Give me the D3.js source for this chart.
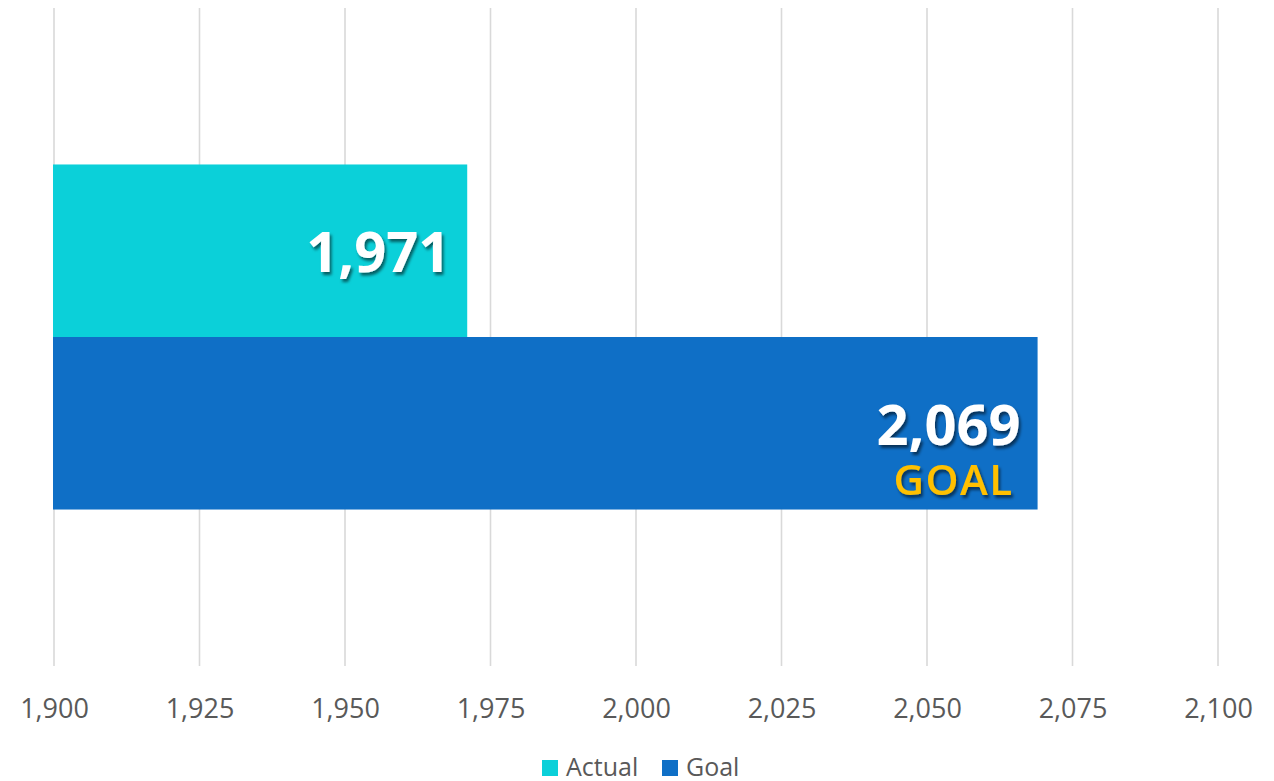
<!DOCTYPE html>
<html>
<head>
<meta charset="utf-8">
<script src="https://cdn.jsdelivr.net/npm/d3@7"></script>
<style>
  html, body { margin: 0; padding: 0; background: #fff; }
  svg { display: block; font-family: "Open Sans", "Noto Sans", sans-serif; }
</style>
</head>
<body>
<svg id="chart"></svg>
<script>
// data
const series = ["Actual", "Goal"];
const values = [1971, 2069];
const series_colors = ["#0bd0d9", "#0f6fc6"];
const tick_values = [1900, 1925, 1950, 1975, 2000, 2025, 2050, 2075, 2100];
const notes = ["", "GOAL"];

const width = 1274, height = 781;
const svg = d3.select("#chart").attr("width", width).attr("height", height);

const x = d3.scaleLinear().domain([1900, 2100]).range([54, 1218]);
const y = d3.scaleBand().domain(series).range([8, 666])
            .paddingInner(0).paddingOuter(0.907);

// shadow for the bar labels
const filter = svg.append("defs").append("filter")
                  .attr("id", "shadow")
                  .attr("x", "-20%").attr("y", "-20%")
                  .attr("width", "140%").attr("height", "150%");
filter.append("feDropShadow")
      .attr("dx", 2).attr("dy", 3)
      .attr("stdDeviation", 1.6)
      .attr("flood-color", "#000")
      .attr("flood-opacity", 0.55);

// gridlines
svg.append("g").selectAll("line")
   .data(tick_values)
   .enter()
   .append("line")
   .attr("x1", d => x(d)).attr("x2", d => x(d))
   .attr("y1", 8).attr("y2", 666)
   .attr("stroke", "#d9d9d9")
   .attr("stroke-width", 1.6);

// x axis labels
const fmt = d3.format(",");
const axis = svg.append("g")
                .attr("transform", "translate(0,718)")
                .call(d3.axisBottom(x).tickValues(tick_values).tickFormat(fmt).tickSize(0).tickPadding(0));
axis.select(".domain").remove();
axis.selectAll("text")
    .attr("dy", 0)
    .attr("fill", "#595959")
    .style("font-family", "'Open Sans', sans-serif")
    .style("font-size", "27px");

// bars
svg.append("g").selectAll("rect")
   .data(values)
   .enter()
   .append("rect")
   .attr("x", x(1900) - 1)
   .attr("y", (d, i) => y(series[i]))
   .attr("width", d => x(d) - x(1900) + 1)
   .attr("height", y.bandwidth())
   .attr("fill", (d, i) => series_colors[i]);

// value labels (value + optional note line underneath)
const labels = svg.append("g").selectAll("text")
   .data(values)
   .enter()
   .append("text")
   .attr("x", d => x(d) - 17)
   .attr("y", (d, i) => y(series[i]) + 108)
   .attr("text-anchor", "end")
   .attr("font-weight", 700)
   .attr("filter", "url(#shadow)");

labels.append("tspan")
      .attr("fill", "#fff")
      .attr("font-size", "56px")
      .text(d => fmt(d));

labels.filter((d, i) => notes[i] != "")
      .append("tspan")
      .attr("x", d => x(d) - 24)
      .attr("dy", 50)
      .attr("fill", "#ffc000")
      .attr("font-size", "42px")
      .attr("font-weight", 600)
      .attr("letter-spacing", "1.5px")
      .text(d => notes[values.indexOf(d)]);

// legend
const legend = svg.append("g").attr("transform", "translate(542,760)");
const items = legend.selectAll("g")
                    .data(series)
                    .enter()
                    .append("g")
                    .attr("transform", (d, i) => "translate(" + (i == 0 ? 0 : 120) + ",0)");
items.append("rect")
     .attr("width", 16).attr("height", 16)
     .attr("fill", (d, i) => series_colors[i]);
items.append("text")
     .attr("x", 24).attr("y", 16)
     .attr("fill", "#595959")
     .attr("font-size", "25px")
     .text(d => d);
</script>
</body>
</html>
